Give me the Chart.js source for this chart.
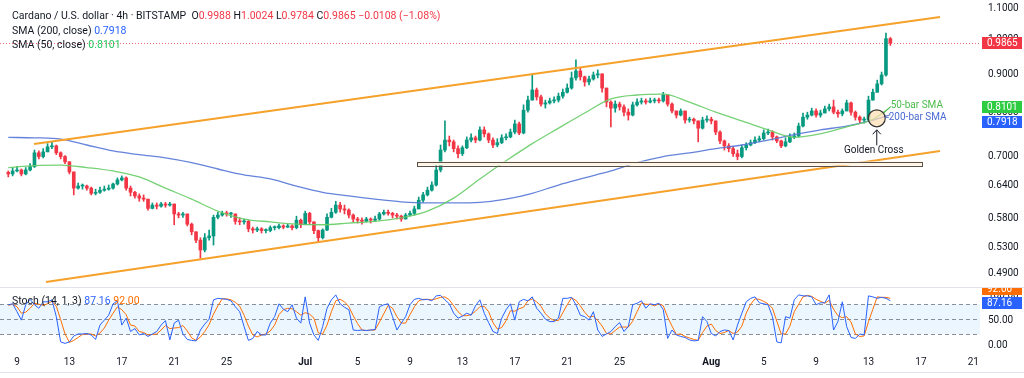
<!DOCTYPE html>
<html>
<head>
<meta charset="utf-8">
<script src="https://cdn.jsdelivr.net/npm/chart.js@4.4.1/dist/chart.umd.min.js"></script>
<style>
  html, body { margin: 0; padding: 0; background: #fff; }
  #wrap { position: relative; width: 1024px; height: 378px; overflow: hidden; font-family: Roboto, "Liberation Sans", Arial, sans-serif; color: #131722; }
  #price { position: absolute; left: 0; top: 0; }
  #stoch { position: absolute; left: 0; top: 288px; }
  .sep { position: absolute; left: 0; width: 1024px; height: 1px; background: #e0e3eb; }
  .legend { position: absolute; left: 12px; font-size: 10.5px; line-height: 12px; white-space: nowrap; }
  .red { color: #f23645; }
  .blue { color: #2962ff; }
  .green { color: #22c55e; }
  .orange { color: #ff6d00; }
</style>
</head>
<body>
<div id="wrap">
  <canvas id="price" width="1024" height="287"></canvas>
  <div class="sep" style="top:287px"></div>
  <canvas id="stoch" width="1024" height="90"></canvas>
  <div class="sep" style="top:372px"></div>
  <div class="legend" style="top:10px">Cardano / U.S. dollar · 4h · BITSTAMP&nbsp; O<span class="red">0.9988</span> H<span class="red">1.0024</span> L<span class="red">0.9784</span> C<span class="red">0.9865</span> <span class="red">−0.0108 (−1.08%)</span></div>
  <div class="legend" style="top:25px">SMA (200, close) <span class="blue">0.7918</span></div>
  <div class="legend" style="top:39px">SMA (50, close) <span class="green">0.8101</span></div>
  <div class="legend" style="top:295px">Stoch (14, 1, 3) <span class="blue">87.16</span> <span class="orange">92.00</span></div>
</div>
<script>
// ---- data (ADA/USD, 8h steps) ----
const firstDay = 8 + 1 / 3;   // Jun 8 08:00, days counted from Jun 0
const candleStep = 1 / 3;
const firstOpen = 0.664;

const closes = [
  0.661,0.667,0.669,0.661,0.669,0.676,0.705,0.697,0.707,0.718,
  0.720,0.705,0.697,0.686,0.665,0.633,0.637,0.637,0.633,0.623,
  0.625,0.629,0.631,0.633,0.641,0.649,0.653,0.633,0.625,0.618,
  0.614,0.612,0.595,0.601,0.599,0.603,0.601,0.603,0.585,0.583,
  0.585,0.567,0.554,0.540,0.524,0.544,0.547,0.579,0.583,0.586,
  0.585,0.585,0.572,0.571,0.572,0.559,0.557,0.559,0.556,0.556,
  0.561,0.561,0.564,0.562,0.564,0.561,0.574,0.566,0.586,0.571,
  0.556,0.544,0.557,0.579,0.588,0.601,0.594,0.592,0.583,0.576,
  0.574,0.572,0.576,0.574,0.576,0.585,0.588,0.586,0.583,0.581,
  0.576,0.583,0.586,0.594,0.610,0.620,0.629,0.639,0.669,0.711,
  0.733,0.729,0.714,0.703,0.716,0.733,0.738,0.733,0.756,0.747,
  0.733,0.722,0.727,0.738,0.740,0.751,0.770,0.749,0.803,0.828,
  0.854,0.836,0.818,0.821,0.826,0.828,0.838,0.848,0.859,0.886,
  0.905,0.889,0.875,0.883,0.894,0.897,0.859,0.823,0.808,0.818,
  0.811,0.798,0.791,0.816,0.823,0.826,0.823,0.826,0.828,0.826,
  0.841,0.818,0.801,0.791,0.801,0.779,0.781,0.777,0.760,0.779,
  0.781,0.777,0.751,0.731,0.720,0.714,0.703,0.697,0.716,0.722,
  0.727,0.733,0.736,0.749,0.751,0.740,0.731,0.720,0.729,0.740,
  0.742,0.765,0.786,0.791,0.801,0.791,0.796,0.806,0.811,0.798,
  0.794,0.801,0.821,0.798,0.786,0.779,0.779,0.828,0.848,0.870,
  0.894,0.9988,0.9865
];
const highs = [
  0.667,0.674,0.676,0.671,0.674,0.682,0.711,0.709,0.714,0.725,
  0.729,0.722,0.707,0.699,0.686,0.665,0.643,0.641,0.639,0.635,
  0.631,0.635,0.637,0.639,0.643,0.653,0.657,0.655,0.637,0.627,
  0.622,0.620,0.612,0.605,0.605,0.606,0.606,0.606,0.603,0.588,
  0.588,0.585,0.569,0.554,0.544,0.551,0.557,0.583,0.588,0.590,
  0.590,0.588,0.585,0.578,0.576,0.574,0.562,0.562,0.561,0.559,
  0.564,0.564,0.567,0.566,0.567,0.566,0.581,0.576,0.590,0.588,
  0.571,0.557,0.559,0.585,0.595,0.608,0.606,0.601,0.594,0.585,
  0.579,0.578,0.579,0.578,0.581,0.588,0.592,0.592,0.588,0.586,
  0.583,0.586,0.590,0.599,0.616,0.625,0.635,0.645,0.680,0.722,
  0.777,0.742,0.733,0.720,0.720,0.740,0.747,0.742,0.763,0.763,
  0.749,0.738,0.736,0.745,0.747,0.758,0.779,0.774,0.816,0.838,
  0.894,0.859,0.841,0.828,0.833,0.836,0.846,0.856,0.870,0.902,
  0.936,0.914,0.891,0.891,0.902,0.908,0.897,0.859,0.826,0.826,
  0.823,0.816,0.806,0.823,0.831,0.833,0.831,0.833,0.833,0.833,
  0.848,0.841,0.821,0.801,0.806,0.801,0.786,0.784,0.777,0.786,
  0.789,0.786,0.777,0.754,0.733,0.725,0.718,0.711,0.722,0.727,
  0.733,0.740,0.742,0.756,0.758,0.754,0.742,0.733,0.738,0.747,
  0.749,0.772,0.796,0.798,0.808,0.806,0.803,0.813,0.818,0.828,
  0.803,0.806,0.828,0.823,0.801,0.789,0.786,0.838,0.856,0.880,
  0.902,1.016,1.0024
];
const lows = [
  0.655,0.657,0.665,0.657,0.659,0.667,0.674,0.692,0.694,0.707,
  0.714,0.701,0.692,0.682,0.661,0.620,0.631,0.631,0.629,0.620,
  0.620,0.623,0.627,0.629,0.631,0.639,0.647,0.629,0.618,0.614,
  0.608,0.608,0.592,0.594,0.594,0.597,0.597,0.599,0.566,0.578,
  0.579,0.564,0.549,0.536,0.511,0.521,0.540,0.532,0.576,0.581,
  0.581,0.579,0.567,0.566,0.567,0.554,0.552,0.554,0.552,0.552,
  0.554,0.557,0.559,0.559,0.561,0.557,0.559,0.561,0.567,0.566,
  0.551,0.537,0.542,0.556,0.578,0.586,0.588,0.585,0.578,0.571,
  0.569,0.567,0.571,0.569,0.572,0.574,0.583,0.583,0.578,0.576,
  0.572,0.576,0.581,0.583,0.594,0.606,0.618,0.627,0.637,0.665,
  0.707,0.720,0.707,0.694,0.699,0.714,0.729,0.727,0.731,0.740,
  0.727,0.716,0.718,0.725,0.733,0.738,0.747,0.745,0.747,0.798,
  0.828,0.828,0.813,0.808,0.818,0.821,0.823,0.833,0.846,0.856,
  0.880,0.880,0.864,0.867,0.880,0.886,0.848,0.811,0.763,0.798,
  0.803,0.789,0.779,0.789,0.813,0.818,0.818,0.821,0.821,0.821,
  0.823,0.813,0.796,0.784,0.789,0.772,0.774,0.770,0.729,0.758,
  0.774,0.770,0.745,0.725,0.711,0.707,0.697,0.690,0.694,0.711,
  0.720,0.725,0.729,0.733,0.745,0.733,0.727,0.716,0.718,0.727,
  0.736,0.740,0.763,0.781,0.789,0.786,0.786,0.796,0.801,0.794,
  0.786,0.789,0.801,0.791,0.779,0.772,0.772,0.777,0.828,0.848,
  0.867,0.891,0.9784
];

// moving averages, one point every 2 days plus the last bar
const sma200 = [0.739,0.738,0.735,0.722,0.709,0.701,0.694,0.684,0.671,0.659,0.651,0.637,0.625,0.618,0.612,0.607,0.605,0.605,0.606,0.612,
  0.623,0.639,0.653,0.667,0.684,0.697,0.705,0.714,0.722,0.733,0.745,0.756,0.765,0.779,0.7918];
const sma50 = [0.674,0.678,0.679,0.674,0.667,0.655,0.633,0.612,0.590,0.576,0.571,0.567,0.566,0.569,0.572,0.578,0.590,0.614,0.651,0.688,
  0.725,0.760,0.796,0.831,0.841,0.843,0.823,0.798,0.777,0.756,0.739,0.747,0.763,0.781,0.8101];

const stochK = [
  79,81,65,48,79,90,79,72,85,85, 89,55,4,1,4,16,20,20,21,18, 9,38,48,58,81,87,38,52,25,31,
  18,21,15,20,25,38,47,8,42,48, 20,9,7,6,28,40,50,89,92,91, 90,87,75,65,35,7,11,25,18,18,
  42,55,81,70,65,79,52,42,95,42, 18,7,35,72,89,99,81,74,69,28, 27,28,27,28,29,75,79,81,55,28,
  42,55,79,90,92,89,90,87,97,98, 89,81,62,52,56,62,58,77,89,62, 43,25,21,52,69,81,48,85,90,87,
  95,72,62,50,45,45,52,92,92,94, 79,58,55,48,65,28,15,20,25,35, 43,25,35,79,82,87,72,81,79,82,
  69,11,28,18,15,13,8,6,7,55, 45,21,16,25,28,27,8,38,62,85, 92,95,83,81,79,55,4,2,55,52,
  89,99,97,97,95,79,83,83,99,28, 45,85,35,13,11,20,18,97,95,92, 94,92,87.16
];
const stochD = [
  78,80,75,62,64,72,82,80,78,81, 86,76,49,20,3,7,13,19,20,20, 16,22,32,48,62,75,69,59,38,36,
  25,23,18,19,20,28,37,31,32,33, 37,26,12,7,14,25,39,60,77,91, 91,89,84,76,58,36,18,14,18,20,
  26,38,59,69,72,71,65,58,63,60, 52,22,20,38,65,87,90,85,75,57, 41,28,27,28,28,44,61,78,72,55,
  42,42,59,75,87,90,90,89,91,94, 95,89,77,65,57,57,59,66,75,76, 65,43,30,33,47,67,66,71,74,87,
  91,85,76,61,52,47,47,63,79,93, 88,77,64,54,56,47,36,21,20,27, 34,34,34,46,65,83,80,80,77,81,
  77,54,36,19,20,15,12,9,7,23, 36,40,27,21,23,27,21,24,36,62, 80,91,90,86,81,72,46,20,20,36,
  65,80,95,98,96,90,86,82,88,70, 57,53,55,44,20,15,16,45,70,95, 94,94,92
];

// drawings
const upperTrend = [{x: 10.30, y: 0.724}, {x: 79.46, y: 1.067}];
const lowerTrend = [{x: 11.21, y: 0.4753}, {x: 79.46, y: 0.7088}];
const supportZone = {from: 39.53, to: 78.08, top: 0.6865, bottom: 0.6782};
const goldenCross = {x: 74.63, y: 0.7833};
const lastPrice = 0.9865, lastSma50 = 0.8101, lastSma200 = 0.7918;
const lastK = 87.16, lastD = 92.00;

// axes
const priceTicks = [0.49, 0.53, 0.58, 0.64, 0.70, 0.80, 0.90, 1.00, 1.10];
const stochTicks = [0, 50, 100];
const stochLevels = [20, 50, 80];
const tickDays = [9, 13, 17, 21, 25, 31, 35, 39, 43, 47, 51, 55, 62, 66, 70, 74, 78, 82];
const tickLabels = ['9', '13', '17', '21', '25', 'Jul', '5', '9', '13', '17', '21', '25', 'Aug', '5', '9', '13', '17', '21'];

const xMin = 7.7023, xMax = 82.5115;
const FONT = 'Roboto, "Liberation Sans", Arial, sans-serif';
const UP = '#089981', DOWN = '#f23645';
const TEXT = '#131722';

// ---- derived series ----
const candleDays = closes.map((_, i) => firstDay + i * candleStep);
const opens = closes.map((c, i) => i === 0 ? firstOpen : closes[i - 1]);   // 24h market: open = previous close
const smaDays = sma50.map((_, i) => i < sma50.length - 1 ? firstDay + i * 2 : candleDays[candleDays.length - 1]);
const candleColor = c => closes[c.dataIndex] >= opens[c.dataIndex] ? UP : DOWN;

function tag(ctx, yc, text, bg, x0) {
  ctx.fillStyle = bg;
  ctx.fillRect(x0, Math.round(yc) - 6, 40, 12);
  ctx.fillStyle = '#fff';
  ctx.font = `10px ${FONT}`;
  ctx.textAlign = 'left';
  ctx.textBaseline = 'middle';
  ctx.fillText(text, x0 + 5, Math.round(yc) + 0.5);
}

const priceOverlay = {
  id: 'priceOverlay',
  beforeDatasetsDraw(chart) {
    const {ctx, chartArea: a, scales: {y}} = chart;
    const py = Math.round(y.getPixelForValue(lastPrice)) + 0.5;
    ctx.save();
    ctx.strokeStyle = 'rgba(242,54,69,0.75)';
    ctx.lineWidth = 1;
    ctx.setLineDash([1, 2]);
    ctx.beginPath();
    ctx.moveTo(a.left, py);
    ctx.lineTo(a.right, py);
    ctx.stroke();
    ctx.restore();
  },
  afterDatasetsDraw(chart) {
    const {ctx, scales: {x, y}} = chart;
    ctx.save();
    // support zone
    const zx1 = x.getPixelForValue(supportZone.from), zx2 = x.getPixelForValue(supportZone.to);
    const zy1 = y.getPixelForValue(supportZone.top), zy2 = y.getPixelForValue(supportZone.bottom);
    ctx.fillStyle = '#fdf4e4';
    ctx.fillRect(zx1, zy1, zx2 - zx1, zy2 - zy1);
    ctx.strokeStyle = '#5e5046';
    ctx.lineWidth = 1;
    ctx.strokeRect(Math.round(zx1) + 0.5, Math.round(zy1) + 0.5, Math.round(zx2 - zx1), Math.round(zy2 - zy1));

    // golden cross marker
    const cx = x.getPixelForValue(goldenCross.x), cy = y.getPixelForValue(goldenCross.y);
    ctx.beginPath();
    ctx.arc(cx, cy, 8.5, 0, Math.PI * 2);
    ctx.fillStyle = 'rgba(255,222,176,0.7)';
    ctx.fill();
    ctx.strokeStyle = '#333';
    ctx.lineWidth = 1.2;
    ctx.stroke();

    // arrow
    ctx.lineWidth = 1;
    ctx.strokeStyle = TEXT;
    ctx.beginPath();
    ctx.moveTo(cx, cy + 27);
    ctx.lineTo(cx, cy + 12);
    ctx.moveTo(cx - 4, cy + 16);
    ctx.lineTo(cx, cy + 11.5);
    ctx.lineTo(cx + 4, cy + 16);
    ctx.stroke();

    ctx.font = `10px ${FONT}`;
    ctx.textBaseline = 'middle';
    ctx.textAlign = 'center';
    ctx.fillStyle = TEXT;
    ctx.fillText('Golden Cross', cx - 3, cy + 32);

    // leader lines + labels
    ctx.strokeStyle = '#4cbb4c';
    ctx.beginPath();
    ctx.moveTo(cx + 7, cy - 5);
    ctx.lineTo(cx + 14, cy - 12);
    ctx.stroke();
    ctx.strokeStyle = '#4a6bd1';
    ctx.beginPath();
    ctx.moveTo(cx + 8, cy - 1);
    ctx.lineTo(cx + 12, cy - 1);
    ctx.stroke();
    ctx.textAlign = 'left';
    ctx.fillStyle = '#4cbb4c';
    ctx.fillText('50-bar SMA', cx + 14, cy - 13);
    ctx.fillStyle = '#4a6bd1';
    ctx.fillText('200-bar SMA', cx + 12, cy - 1);
    ctx.restore();
  },
  afterDraw(chart) {
    const {ctx, scales: {y}} = chart;
    ctx.save();
    const x0 = chart.chartArea.right + 2;
    tag(ctx, y.getPixelForValue(lastPrice), lastPrice.toFixed(4), '#f23645', x0);
    const gy = y.getPixelForValue(lastSma50);
    tag(ctx, gy, lastSma50.toFixed(4), '#2ecc40', x0);
    tag(ctx, Math.max(y.getPixelForValue(lastSma200), gy + 14.5), lastSma200.toFixed(4), '#2962ff', x0);
    ctx.restore();
  }
};

const stochOverlay = {
  id: 'stochOverlay',
  beforeDatasetsDraw(chart) {
    const {ctx, chartArea: a, scales: {y}} = chart;
    ctx.save();
    const yHi = y.getPixelForValue(stochLevels[2]), yLo = y.getPixelForValue(stochLevels[0]);
    ctx.fillStyle = 'rgba(33,150,243,0.09)';
    ctx.fillRect(a.left, yHi, a.right - a.left, yLo - yHi);
    ctx.strokeStyle = '#8a8e99';
    ctx.lineWidth = 1;
    ctx.setLineDash([4, 3]);
    stochLevels.forEach(v => {
      const py = Math.round(y.getPixelForValue(v)) + 0.5;
      ctx.beginPath();
      ctx.moveTo(a.left, py);
      ctx.lineTo(a.right, py);
      ctx.stroke();
    });
    ctx.restore();
  },
  afterDraw(chart) {
    const {ctx, scales: {y}} = chart;
    ctx.save();
    const x0 = chart.chartArea.right + 2;
    const by = y.getPixelForValue(lastK) + 2;
    tag(ctx, by - 14, lastD.toFixed(2), '#ff6d00', x0);
    tag(ctx, by, lastK.toFixed(2), '#2962ff', x0);
    ctx.restore();
  }
};

const common = {
  responsive: false,
  maintainAspectRatio: false,
  animation: false,
  events: [],
  layout: {padding: 0},
  plugins: {legend: {display: false}, tooltip: {enabled: false}}
};

const xHidden = {
  type: 'linear', min: xMin, max: xMax, offset: false, bounds: 'data',
  display: false, grid: {display: false}
};

new Chart(document.getElementById('price'), {
  type: 'bar',
  data: {
    datasets: [
      {type: 'line', data: upperTrend, borderColor: '#f5a12a', borderWidth: 2, pointRadius: 0, order: 0},
      {type: 'line', data: lowerTrend, borderColor: '#f5a12a', borderWidth: 2, pointRadius: 0, order: 0},
      {type: 'line', data: smaDays.map((d, i) => ({x: d, y: sma50[i]})), borderColor: 'rgba(102,204,102,0.9)',
        borderWidth: 1.3, pointRadius: 0, cubicInterpolationMode: 'monotone', order: 1},
      {type: 'line', data: smaDays.map((d, i) => ({x: d, y: sma200[i]})), borderColor: 'rgba(84,118,214,0.9)',
        borderWidth: 1.3, pointRadius: 0, cubicInterpolationMode: 'monotone', order: 1},
      {data: candleDays.map((d, i) => ({x: d, y: [opens[i], closes[i]]})), backgroundColor: candleColor,
        barThickness: 3, grouped: false, minBarLength: 1, order: 2},
      {data: candleDays.map((d, i) => ({x: d, y: [lows[i], highs[i]]})), backgroundColor: candleColor,
        barThickness: 1, grouped: false, order: 3}
    ]
  },
  options: {
    ...common,
    scales: {
      x: xHidden,
      y: {
        type: 'logarithmic', position: 'right', min: 0.4681, max: 1.1238, bounds: 'data',
        grid: {display: false, drawTicks: false}, border: {display: false},
        afterBuildTicks: s => { s.ticks = priceTicks.map(v => ({value: v})); },
        afterFit: s => { s.width = 44; s.paddingTop = 0; s.paddingBottom = 0; },
        ticks: {autoSkip: false, padding: 8, labelOffset: 1.5, color: TEXT, font: {size: 10, family: FONT},
          callback: v => Number(v).toFixed(4)}
      }
    }
  },
  plugins: [priceOverlay]
});

new Chart(document.getElementById('stoch'), {
  type: 'line',
  data: {
    datasets: [
      {data: candleDays.map((d, i) => ({x: d, y: stochK[i]})), borderColor: '#2962ff', borderWidth: 1, pointRadius: 0, order: 0},
      {data: candleDays.map((d, i) => ({x: d, y: stochD[i]})), borderColor: '#ff6d00', borderWidth: 1, pointRadius: 0, order: 1}
    ]
  },
  options: {
    ...common,
    scales: {
      x: {
        type: 'linear', min: xMin, max: xMax, offset: false, bounds: 'data',
        grid: {display: false, drawTicks: false}, border: {display: false},
        afterBuildTicks: s => { s.ticks = tickDays.map(v => ({value: v})); },
        afterFit: s => { s.height = 26; s.paddingLeft = 0; s.paddingRight = 0; },
        ticks: {autoSkip: false, maxRotation: 0, padding: 4, color: TEXT,
          font: c => ({size: 10, family: FONT, weight: /[A-Za-z]/.test(tickLabels[c.index] || '') ? 'bold' : 'normal'}),
          callback: (v, i) => tickLabels[i]}
      },
      y: {
        type: 'linear', position: 'right', min: -16.4, max: 112.9, bounds: 'data',
        grid: {display: false, drawTicks: false}, border: {display: false},
        afterBuildTicks: s => { s.ticks = stochTicks.map(v => ({value: v})); },
        afterFit: s => { s.width = 44; s.paddingTop = 0; s.paddingBottom = 0; },
        ticks: {autoSkip: false, padding: 8, labelOffset: 1.5, color: TEXT, font: {size: 10, family: FONT},
          callback: v => Number(v).toFixed(2)}
      }
    }
  },
  plugins: [stochOverlay]
});
</script>
</body>
</html>
